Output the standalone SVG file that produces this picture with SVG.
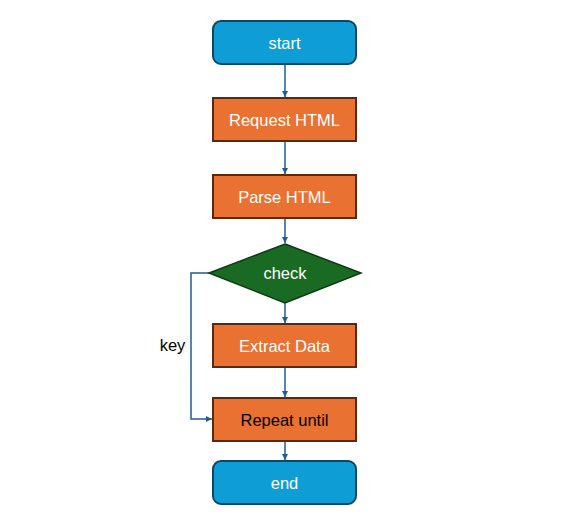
<svg xmlns="http://www.w3.org/2000/svg" width="577" height="527" viewBox="0 0 577 527">
<style>
.term{fill:#0E9ED5;stroke:#0E4560;stroke-width:2}
.proc{fill:#E97132;stroke:#5A2A0E;stroke-width:2}
.dec{fill:#196B24;stroke:#0E3A14;stroke-width:1.5}
.t{font-family:"Liberation Sans",Arial,sans-serif;font-size:16.5px;fill:#fff;text-anchor:middle;dominant-baseline:central}
.conn{fill:none;stroke:#1F5F8B;stroke-width:1.5}
</style>
<defs>
<marker id="ah" viewBox="0 0 10 10" refX="10" refY="5" markerWidth="6" markerHeight="6" orient="auto" markerUnits="userSpaceOnUse">
<path d="M0,0 L10,5 L0,10 z" fill="#1F5F8B"/>
</marker>
</defs>
<rect width="577" height="527" fill="#fff"/>
<g id="connectors">
<path class="conn" d="M285,64 V97" marker-end="url(#ah)"/>
<path class="conn" d="M285,141 V174" marker-end="url(#ah)"/>
<path class="conn" d="M285,218 V243" marker-end="url(#ah)"/>
<path class="conn" d="M285,303 V323" marker-end="url(#ah)"/>
<path class="conn" d="M285,367 V397" marker-end="url(#ah)"/>
<path class="conn" d="M285,441 V460" marker-end="url(#ah)"/>
<path class="conn" d="M209,273 H191 V419 H212" marker-end="url(#ah)"/>
<text x="172.5" y="345" class="t" style="fill:#000">key</text>
</g>
<g id="start">
<rect class="term" x="213" y="21" width="143" height="43" rx="8"/>
<text class="t" x="284.5" y="42.5">start</text>
</g>
<g id="request">
<rect class="proc" x="213" y="98" width="143" height="43"/>
<text class="t" x="284.5" y="119.5">Request HTML</text>
</g>
<g id="parse">
<rect class="proc" x="213" y="175" width="143" height="43"/>
<text class="t" x="284.5" y="196.5">Parse HTML</text>
</g>
<g id="check">
<polygon class="dec" points="285,244 361,273 285,303 209,273"/>
<text class="t" x="285" y="273">check</text>
</g>
<g id="extract">
<rect class="proc" x="213" y="324" width="143" height="43"/>
<text class="t" x="284.5" y="345.5">Extract Data</text>
</g>
<g id="repeat">
<rect class="proc" x="213" y="398" width="143" height="43"/>
<text class="t" x="284.5" y="419.5" style="fill:#000">Repeat until</text>
</g>
<g id="end">
<rect class="term" x="213" y="461" width="143" height="43" rx="8"/>
<text class="t" x="284.5" y="482.5">end</text>
</g>
</svg>
